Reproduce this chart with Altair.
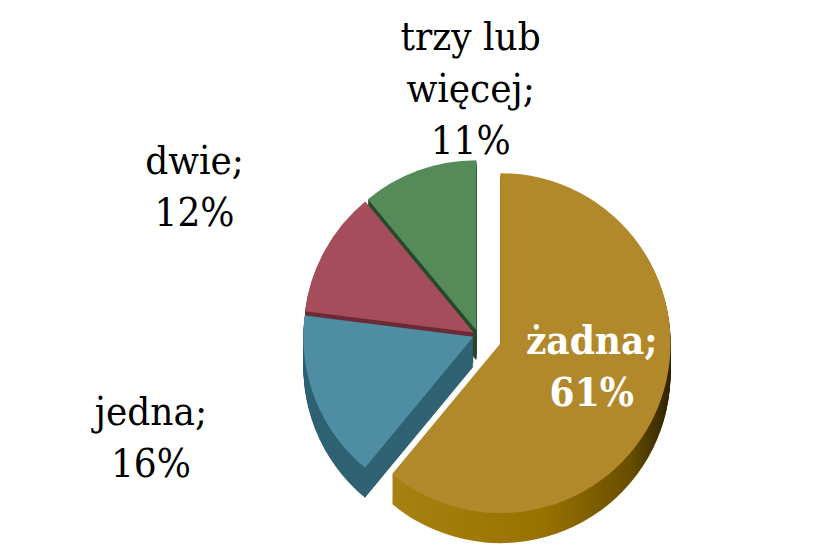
import altair as alt
import pandas as pd

# --- data ---
kategorie = ["żadna", "jedna", "dwie", "trzy lub więcej"]
procenty = [61, 16, 12, 11]
etykiety = ["żadna;\n61%", "jedna;\n16%", "dwie;\n12%", "trzy lub\nwięcej;\n11%"]
kolejnosc = [0, 1, 2, 3]          # clockwise order from 12 o'clock
ranga = [3, 2, 1, 0]              # painter's order (back -> front)

kolory_gora = ["#B1882A", "#4F8DA2", "#A54D5B", "#548B58"]
kolory_bok = ["#8A6705", "#2F6273", "#6C2B36", "#254A2B"]

W, H = 798, 538
CX, CY = 470, 327
R = 170
DEPTH = 30
FONT = "DejaVu Serif Condensed"

df = pd.DataFrame({
    "kategoria": kategorie,
    "procent": procenty,
    "etykieta": etykiety,
    "kolejnosc": kolejnosc,
    "ranga": ranga,
})

theta_scale = alt.Scale(domain=[0, 100], range=[0, 6.283185307179586])
x_scale = alt.Scale(domain=[-CX, W - CX], range=[0, W])
y_scale = alt.Scale(domain=[-CY, H - CY], range=[0, H])

base = (
    alt.Chart(df)
    .transform_window(
        koniec="sum(procent)",
        sort=[alt.SortField("kolejnosc")],
        frame=[None, 0],
    )
    .transform_calculate(
        poczatek="datum.koniec - datum.procent",
        srodek="(datum.koniec - datum.procent / 2)",
        ekspl="datum.kategoria == 'żadna' ? 24 : 5",
        kat="2 * PI * datum.srodek / 100",
        dx="sin(datum.kat) * datum.ekspl",
        dy="-cos(datum.kat) * datum.ekspl",
    )
)

sciany = (
    base.transform_calculate(glebokosc=f"sequence(1, {DEPTH + 1}, 1)")
    .transform_flatten(["glebokosc"])
    .transform_calculate(
        py="datum.dy + datum.glebokosc",
        klucz="datum.ranga * 1000 - datum.glebokosc",
    )
)

enc_sciany = dict(
    theta=alt.Theta("poczatek:Q", scale=theta_scale),
    theta2="koniec:Q",
    x=alt.X("dx:Q", scale=x_scale, axis=None),
    y=alt.Y("py:Q", scale=y_scale, axis=None),
    order=alt.Order("klucz:Q"),
)

# side walls of the back slices
boki = (
    sciany.transform_filter(alt.datum.kategoria != "żadna")
    .mark_arc(radius=R)
    .encode(
        fill=alt.Fill(
            "kategoria:N",
            scale=alt.Scale(domain=kategorie, range=kolory_bok),
            legend=None,
        ),
        **enc_sciany,
    )
)

# side wall of the front (gold) slice, shaded left -> right
bok_zloty = (
    sciany.transform_filter(alt.datum.kategoria == "żadna")
    .mark_arc(
        radius=R,
        fill=alt.Gradient(
            gradient="linear",
            x1=0, x2=1, y1=0, y2=0,
            stops=[
                alt.GradientStop(offset=0, color="#A98112"),
                alt.GradientStop(offset=0.55, color="#987100"),
                alt.GradientStop(offset=0.85, color="#6A4F00"),
                alt.GradientStop(offset=1, color="#2E2300"),
            ],
        ),
    )
    .encode(**enc_sciany)
)

gora = base.mark_arc(radius=R).encode(
    theta=alt.Theta("poczatek:Q", scale=theta_scale),
    theta2="koniec:Q",
    x=alt.X("dx:Q", scale=x_scale, axis=None),
    y=alt.Y("dy:Q", scale=y_scale, axis=None),
    color=alt.Color(
        "kategoria:N",
        scale=alt.Scale(domain=kategorie, range=kolory_gora),
        legend=None,
    ),
)


def etykieta(kategoria, promien, przes_x, przes_y, kolor="black", waga="normal"):
    return (
        base.transform_filter(alt.datum.kategoria == kategoria)
        .mark_text(
            radius=promien,
            dx=przes_x,
            dy=przes_y,
            font=FONT,
            fontSize=40,
            fontWeight=waga,
            lineHeight=52,
            lineBreak="\n",
            color=kolor,
            align="center",
            baseline="middle",
        )
        .encode(
            theta=alt.Theta("srodek:Q", scale=theta_scale),
            x=alt.X("dx:Q", scale=x_scale, axis=None),
            y=alt.Y("dy:Q", scale=y_scale, axis=None),
            text="etykieta:N",
        )
    )


warstwy_etykiet = [
    etykieta("trzy lub więcej", R + 80, 79, -57),
    etykieta("dwie", R + 80, -60, -50),
    etykieta("jedna", R + 80, -90, -16),
    etykieta("żadna", R * 0.62, -8, -37, kolor="white", waga="bold"),
]

chart = (
    alt.layer(boki, bok_zloty, gora, *warstwy_etykiet)
    .properties(width=W, height=H, padding=0, autosize=alt.AutoSizeParams(type="none"))
    .configure_view(stroke=None)
)

chart.save("out.html", embed_options={"renderer": "svg", "actions": False})
